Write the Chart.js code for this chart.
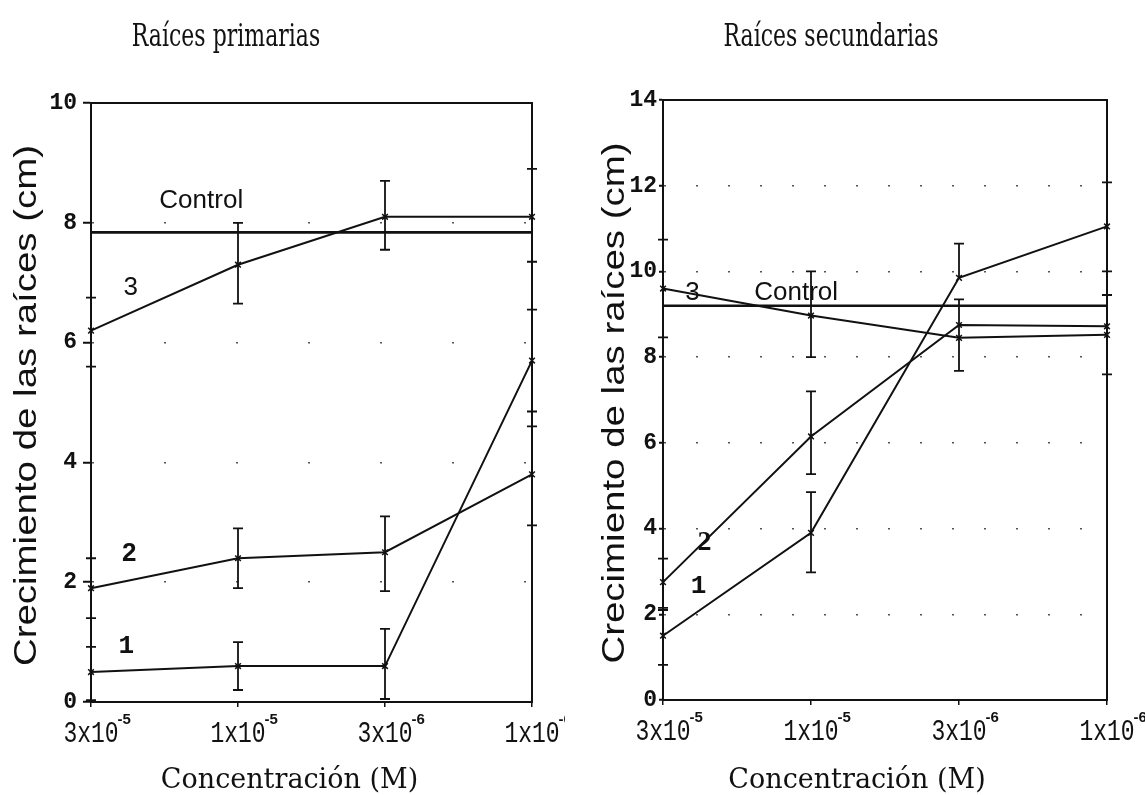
<!DOCTYPE html>
<html>
<head>
<meta charset="utf-8">
<script src="https://cdn.jsdelivr.net/npm/chart.js@4.4.1/dist/chart.umd.min.js"></script>
<style>
    body { margin: 0; background: #fff; }
    .panel { position: absolute; top: 0; }
</style>
</head>
<body>
<div class="panel" style="left:0"><canvas id="chart-prim" width="565" height="795"></canvas></div>
<div class="panel" style="left:565px"><canvas id="chart-sec" width="580" height="795"></canvas></div>
<script>
// x axis: concentration (M), written as base + exponent
const tickBases = ['3x10', '1x10', '3x10', '1x10'];
const tickExps = ['-5', '-5', '-6', '-6'];

// Raíces primarias
const primControl = [7.84, 7.84, 7.84, 7.84];
const prim3 = [6.2, 7.3, 8.1, 8.1];
const prim3Lo = [5.6, 6.65, 7.55, 7.35];
const prim3Hi = [6.75, 8.0, 8.7, 8.9];
const prim2 = [1.9, 2.4, 2.5, 3.8];
const prim2Lo = [1.4, 1.9, 1.85, 2.95];
const prim2Hi = [2.4, 2.9, 3.1, 4.6];
const prim1 = [0.5, 0.6, 0.6, 5.7];
const prim1Lo = [0.03, 0.2, 0.05, 4.85];
const prim1Hi = [0.92, 1.0, 1.22, 6.55];

// Raíces secundarias
const secControl = [9.2, 9.2, 9.2, 9.2];
const sec3 = [9.6, 8.97, 8.45, 8.52];
const sec3Lo = [8.46, 8.0, 7.68, 7.6];
const sec3Hi = [10.74, 10.0, 9.35, 9.45];
const sec2 = [2.75, 6.15, 8.75, 8.72];
const sec2Lo = [2.1, 5.27, null, null];
const sec2Hi = [3.3, 7.2, null, null];
const sec1 = [1.5, 3.9, 9.85, 11.05];
const sec1Lo = [0.82, 2.98, null, 10.0];
const sec1Hi = [2.15, 4.85, 10.65, 12.08];

const INK = '#111';
const yTitle = 'Crecimiento de las raíces (cm)';
const xTitle = 'Concentración (M)';

// frame, error bars, curve labels, tick labels and titles
const decor = {
    id: 'decor',
    afterDatasetsDraw(chart, args, opts) {
        const ctx = chart.ctx;
        const a = chart.chartArea;
        const x = chart.scales.x;
        const y = chart.scales.y;
        ctx.save();
        ctx.strokeStyle = INK;
        ctx.lineWidth = 2;
        ctx.strokeRect(a.left, a.top, a.right - a.left, a.bottom - a.top);

        ctx.lineWidth = 1.8;
        chart.data.datasets.forEach(ds => {
            if (!ds.errLo) return;
            ds.data.forEach((v, i) => {
                const px = x.getPixelForValue(i);
                const hi = ds.errHi[i];
                const lo = ds.errLo[i];
                ctx.beginPath();
                if (hi != null) {
                    const t = y.getPixelForValue(hi);
                    ctx.moveTo(px, y.getPixelForValue(v));
                    ctx.lineTo(px, t);
                    ctx.moveTo(px - 5, t);
                    ctx.lineTo(px + 5, t);
                }
                if (lo != null) {
                    const b = y.getPixelForValue(lo);
                    ctx.moveTo(px, y.getPixelForValue(v));
                    ctx.lineTo(px, b);
                    ctx.moveTo(px - 5, b);
                    ctx.lineTo(px + 5, b);
                }
                ctx.stroke();
            });
        });

        // curve labels (1, 2, 3, Control)
        ctx.fillStyle = INK;
        ctx.textAlign = 'center';
        ctx.textBaseline = 'middle';
        opts.notes.forEach(n => {
            ctx.font = n.font;
            ctx.fillText(n.text, x.getPixelForValue(n.at[0]), y.getPixelForValue(n.at[1]));
        });
        ctx.restore();
    },
    afterDraw(chart, args, opts) {
        const ctx = chart.ctx;
        const a = chart.chartArea;
        const x = chart.scales.x;
        ctx.save();
        ctx.fillStyle = INK;
        ctx.textBaseline = 'alphabetic';

        // tick labels with superscript exponent
        tickBases.forEach((base, i) => {
            const px = x.getPixelForValue(i);
            ctx.font = '23px "Liberation Mono"';
            const w = ctx.measureText(base).width;
            ctx.save();
            ctx.translate(px, a.bottom + 40);
            ctx.scale(1, 1.3);
            ctx.textAlign = 'center';
            ctx.fillText(base, 0, 0);
            ctx.restore();
            ctx.font = 'bold 15px "Liberation Sans"';
            ctx.textAlign = 'left';
            ctx.fillText(tickExps[i], px + w / 2 - 1, a.bottom + 22);
        });

        ctx.textAlign = 'center';
        // y title, rotated and a little stretched along its length (scan look)
        ctx.save();
        ctx.translate(opts.yTitleX, (a.top + a.bottom) / 2 + 3);
        ctx.rotate(-Math.PI / 2);
        ctx.scale(1.24, 1);
        ctx.textBaseline = 'middle';
        ctx.font = '31px "Liberation Sans"';
        ctx.fillText(yTitle, 0, 0);
        ctx.restore();

        ctx.font = '27px "DejaVu Serif"';
        ctx.fillText(xTitle, (a.left + a.right) / 2 + opts.xTitleShift, 788);

        ctx.save();
        ctx.translate(opts.titleX, 46);
        ctx.scale(1, 1.4);
        ctx.font = '22px "DejaVu Serif"';
        ctx.fillText(opts.title, 0, 0);
        ctx.restore();
        ctx.restore();
    }
};

function makeChart(canvasId, cfg) {
    const ctx = document.getElementById(canvasId).getContext('2d');
    const line = (data, lo, hi, isControl) => ({
        data: data,
        errLo: lo,
        errHi: hi,
        borderColor: INK,
        borderWidth: isControl ? 2.6 : 2,
        pointStyle: 'crossRot',
        pointRadius: isControl ? 0 : 4,
        pointBorderWidth: 1.5,
        pointBorderColor: INK,
        tension: 0,
        clip: false
    });
    return new Chart(ctx, {
        type: 'line',
        data: {
            labels: tickBases,
            datasets: cfg.series.map(s => line(s[0], s[1], s[2], s[3]))
        },
        options: {
            responsive: false,
            animation: false,
            devicePixelRatio: 1,
            layout: {
                padding: { left: 0, right: cfg.padRight, top: cfg.padTop, bottom: 0 }
            },
            plugins: {
                legend: { display: false },
                tooltip: { enabled: false },
                decor: {
                    title: cfg.title,
                    titleX: cfg.titleX,
                    yTitleX: cfg.yTitleX,
                    xTitleShift: cfg.xTitleShift,
                    notes: cfg.notes
                }
            },
            scales: {
                x: {
                    type: 'category',
                    offset: false,
                    ticks: { display: false },
                    grid: { display: true, drawOnChartArea: false, tickLength: 5, color: INK, lineWidth: 1.5 },
                    border: { display: true, color: INK, width: 2 },
                    afterFit: s => { s.height = cfg.xHeight; }
                },
                y: {
                    min: 0,
                    max: cfg.yMax,
                    ticks: {
                        stepSize: 2,
                        color: INK,
                        padding: cfg.tickPad,
                        font: { family: 'Liberation Mono', size: 23, weight: 'bold' }
                    },
                    grid: {
                        color: '#555',
                        lineWidth: 1.5,
                        tickLength: cfg.tickLen,
                        tickColor: INK,
                        tickWidth: 2
                    },
                    border: { display: true, color: INK, width: 2, dash: cfg.dots },
                    title: { display: false },
                    afterFit: s => { s.width = cfg.yWidth; }
                }
            }
        },
        plugins: [decor]
    });
}

const noteFont = '26px "Liberation Sans"';
const oneFont = 'bold 26px "Liberation Mono"';

makeChart('chart-prim', {
    title: 'Raíces primarias',
    titleX: 226,
    yTitleX: 27,
    xTitleShift: -22,
    yMax: 10,
    padRight: 33, padTop: 103,
    yWidth: 91, xHeight: 93,
    tickPad: 6, tickLen: 8,
    dots: [2, 70],
    series: [
        [primControl, null, null, true],
        [prim3, prim3Lo, prim3Hi, false],
        [prim2, prim2Lo, prim2Hi, false],
        [prim1, prim1Lo, prim1Hi, false]
    ],
    notes: [
        { text: 'Control', at: [0.75, 8.37], font: noteFont },
        { text: '3', at: [0.27, 6.92], font: noteFont },
        { text: '2', at: [0.26, 2.47], font: 'bold ' + noteFont },
        { text: '1', at: [0.24, 0.93], font: oneFont }
    ]
});

makeChart('chart-sec', {
    title: 'Raíces secundarias',
    titleX: 266,
    yTitleX: 50,
    xTitleShift: -28,
    yMax: 14,
    padRight: 38, padTop: 100,
    yWidth: 98, xHeight: 95,
    tickPad: 2, tickLen: 4,
    dots: [2, 30],
    series: [
        [secControl, null, null, true],
        [sec3, sec3Lo, sec3Hi, false],
        [sec2, sec2Lo, sec2Hi, false],
        [sec1, sec1Lo, sec1Hi, false]
    ],
    notes: [
        { text: '3', at: [0.2, 9.5], font: noteFont },
        { text: 'Control', at: [0.9, 9.5], font: noteFont },
        { text: '2', at: [0.28, 3.66], font: 'bold 28px "Liberation Serif"' },
        { text: '1', at: [0.24, 2.64], font: oneFont }
    ]
});
</script>
</body>
</html>
